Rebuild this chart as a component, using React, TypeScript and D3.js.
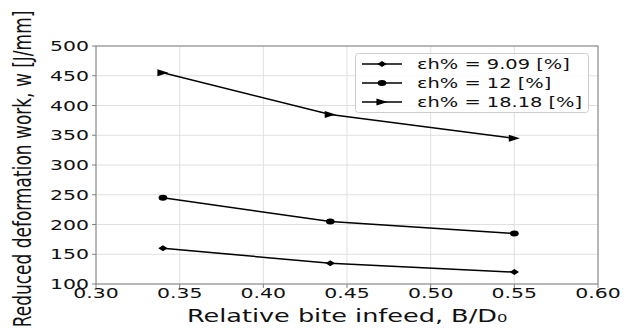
import React, { useRef, useEffect } from "react";
import * as d3 from "d3";

// relative bite infeed B/D0
const biteInfeed = [0.34, 0.44, 0.55];
// reduced deformation work w [J/mm] per height reduction
const work909 = [160, 135, 120];
const work12 = [245, 205, 185];
const work1818 = [455, 385, 345];
const seriesLabels = ["εh% = 9.09 [%]", "εh% = 12 [%]", "εh% = 18.18 [%]"];
const xTicks = [0.3, 0.35, 0.4, 0.45, 0.5, 0.55, 0.6];
const yTicks = [100, 150, 200, 250, 300, 350, 400, 450, 500];

const SX = 1.46; // the picture is stretched sideways
const FONT = "DejaVu Sans, sans-serif";

const markerPath: Record<string, string> = {
  diamond: "M0,-3 L3.2,0 L0,3 L-3.2,0 Z",
  circle: "M3,0 A3,3 0 1,1 -3,0 A3,3 0 1,1 3,0 Z",
  triangle: "M3.8,0 L-3.8,-3.5 L-3.8,3.5 Z",
};

function App() {
  const ref = useRef<SVGSVGElement>(null);

  useEffect(() => {
    const svg = d3.select(ref.current);
    svg.selectAll("*").remove();

    const left = 96, right = 598, top = 46, bottom = 284;

    const x = d3.scaleLinear().domain([0.3, 0.6]).range([left, right]);
    const y = d3.scaleLinear().domain([100, 500]).range([bottom, top]);

    const series = [
      { values: work909, marker: "diamond", label: seriesLabels[0] },
      { values: work12, marker: "circle", label: seriesLabels[1] },
      { values: work1818, marker: "triangle", label: seriesLabels[2] },
    ];

    // grid
    svg.append("g")
      .selectAll("line")
      .data(xTicks)
      .enter()
      .append("line")
      .attr("x1", (d) => x(d))
      .attr("x2", (d) => x(d))
      .attr("y1", top)
      .attr("y2", bottom)
      .attr("stroke", "#e0e0e0")
      .attr("stroke-width", 1);
    svg.append("g")
      .selectAll("line")
      .data(yTicks)
      .enter()
      .append("line")
      .attr("x1", left)
      .attr("x2", right)
      .attr("y1", (d) => y(d))
      .attr("y2", (d) => y(d))
      .attr("stroke", "#e0e0e0")
      .attr("stroke-width", 1);

    // spines
    svg.append("rect")
      .attr("x", left)
      .attr("y", top)
      .attr("width", right - left)
      .attr("height", bottom - top)
      .attr("fill", "none")
      .attr("stroke", "#808080")
      .attr("stroke-width", 1);

    // ticks
    svg.append("g")
      .selectAll("line")
      .data(yTicks)
      .enter()
      .append("line")
      .attr("x1", left - 4)
      .attr("x2", left)
      .attr("y1", (d) => y(d))
      .attr("y2", (d) => y(d))
      .attr("stroke", "#808080");
    svg.append("g")
      .selectAll("line")
      .data(xTicks)
      .enter()
      .append("line")
      .attr("x1", (d) => x(d))
      .attr("x2", (d) => x(d))
      .attr("y1", bottom)
      .attr("y2", bottom + 4)
      .attr("stroke", "#808080");

    // tick labels
    svg.append("g")
      .selectAll("text")
      .data(yTicks)
      .enter()
      .append("text")
      .text((d) => d)
      .attr("transform", (d) => `translate(${left - 7},${y(d) + 5}) scale(${SX},1)`)
      .attr("text-anchor", "end")
      .attr("font-family", FONT)
      .attr("font-size", 14)
      .attr("fill", "#111");
    svg.append("g")
      .selectAll("text")
      .data(xTicks)
      .enter()
      .append("text")
      .text((d) => d3.format(".2f")(d))
      .attr("transform", (d) => `translate(${x(d)},${bottom + 14}) scale(${SX},1)`)
      .attr("text-anchor", "middle")
      .attr("font-family", FONT)
      .attr("font-size", 14)
      .attr("fill", "#111");

    // axis titles
    svg.append("text")
      .text("Relative bite infeed, B/D₀")
      .attr("transform", `translate(${(left + right) / 2},${bottom + 38}) scale(${SX},1)`)
      .attr("text-anchor", "middle")
      .attr("font-family", FONT)
      .attr("font-size", 17.5)
      .attr("fill", "#111");
    svg.append("text")
      .text("Reduced deformation work, w [J/mm]")
      .attr("transform", `translate(31,169) scale(${SX},1) rotate(-90)`)
      .attr("text-anchor", "middle")
      .attr("font-family", FONT)
      .attr("font-size", 17)
      .attr("fill", "#111");

    // lines + markers
    const line = d3
      .line<number>()
      .x((d, i) => x(biteInfeed[i]))
      .y((d) => y(d));

    series.forEach((s) => {
      svg.append("path")
        .datum(s.values)
        .attr("d", line)
        .attr("fill", "none")
        .attr("stroke", "#000")
        .attr("stroke-width", 1.5);
      svg.append("g")
        .selectAll("path")
        .data(s.values)
        .enter()
        .append("path")
        .attr("d", markerPath[s.marker])
        .attr("transform", (d, i) => `translate(${x(biteInfeed[i])},${y(d)}) scale(${SX},1)`)
        .attr("fill", "#000");
    });

    // legend
    const lg = svg.append("g");
    lg.append("rect")
      .attr("x", 355.5)
      .attr("y", 53.5)
      .attr("width", 233)
      .attr("height", 59)
      .attr("rx", 3)
      .attr("fill", "#fff")
      .attr("fill-opacity", 0.85)
      .attr("stroke", "#cccccc");
    series.forEach((s, i) => {
      const ry = 64 + i * 19;
      lg.append("line")
        .attr("x1", 362)
        .attr("x2", 402)
        .attr("y1", ry)
        .attr("y2", ry)
        .attr("stroke", "#000")
        .attr("stroke-width", 1.5);
      lg.append("path")
        .attr("d", markerPath[s.marker])
        .attr("transform", `translate(382,${ry}) scale(${SX},1)`)
        .attr("fill", "#000");
      lg.append("text")
        .text(s.label)
        .attr("transform", `translate(417,${ry + 5}) scale(${SX},1)`)
        .attr("font-family", FONT)
        .attr("font-size", 13.3)
        .attr("fill", "#111");
    });
  }, []);

  return (
    <svg
      ref={ref}
      width={623}
      height={334}
      style={{ position: "absolute", left: 0, top: 0, background: "#fff" }}
    />
  );
}

export default App;
